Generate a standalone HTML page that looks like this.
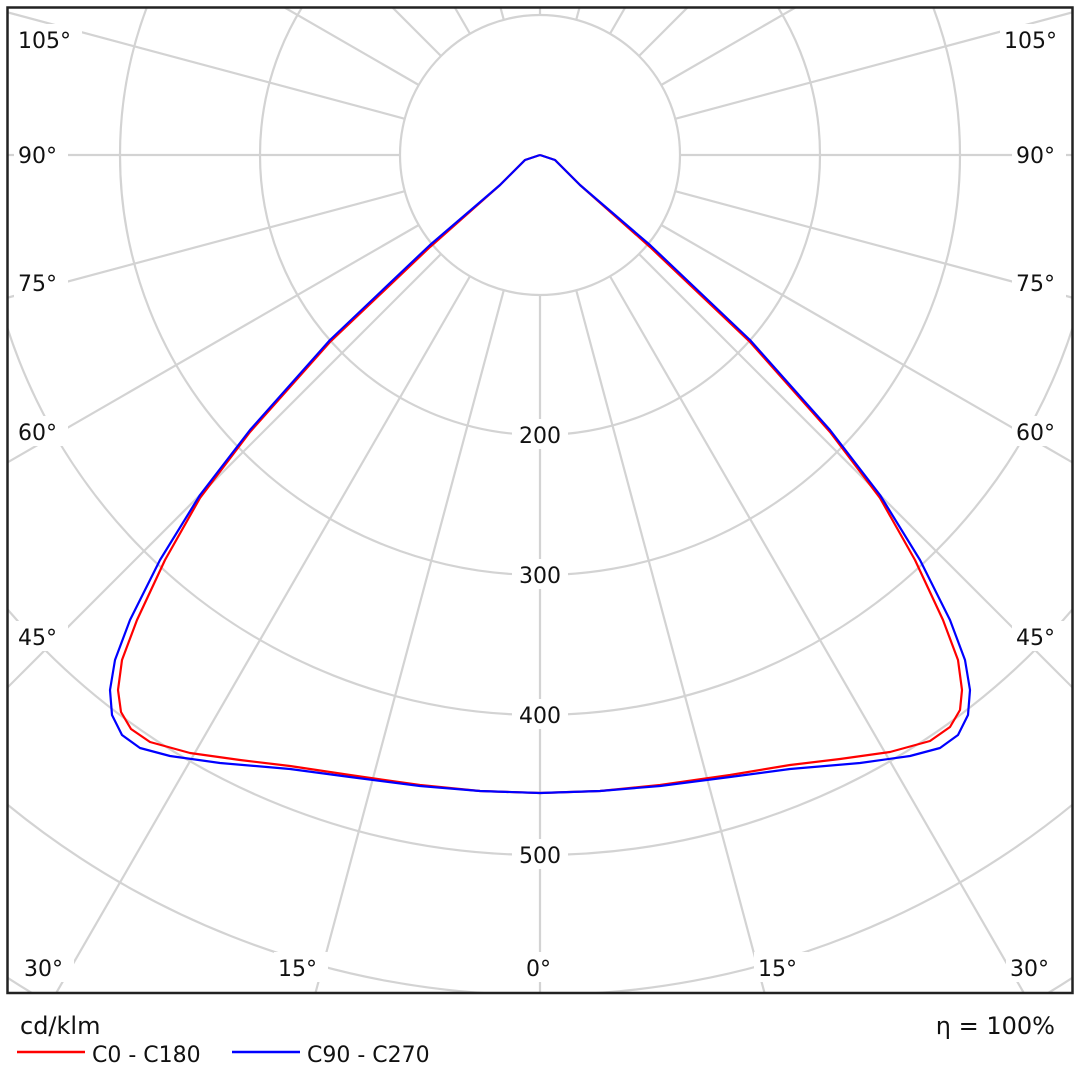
<!DOCTYPE html>
<html><head><meta charset="utf-8"><style>
html,body{margin:0;padding:0;background:#fff;width:1080px;height:1080px;overflow:hidden;}
svg{display:block;font-family:"DejaVu Sans","Liberation Sans",sans-serif;}
</style></head><body>
<svg width="1080" height="1080" viewBox="0 0 1080 1080" xmlns="http://www.w3.org/2000/svg">
<defs><clipPath id="c"><rect x="8" y="8" width="1065" height="985"/></clipPath></defs>
<rect width="1080" height="1080" fill="#fff"/>
<g clip-path="url(#c)" stroke="#d3d3d3" stroke-width="2.2" fill="none">
<circle cx="540" cy="155" r="140"/><circle cx="540" cy="155" r="280"/><circle cx="540" cy="155" r="420"/>
<circle cx="540" cy="155" r="560"/><circle cx="540" cy="155" r="700"/><circle cx="540" cy="155" r="840"/>
<circle cx="540" cy="155" r="980"/><circle cx="540" cy="155" r="1120"/>
<line x1="540" y1="295" x2="540" y2="1400"/>
<line x1="540" y1="295" x2="540" y2="1400" transform="rotate(15 540 155)"/>
<line x1="540" y1="295" x2="540" y2="1400" transform="rotate(30 540 155)"/>
<line x1="540" y1="295" x2="540" y2="1400" transform="rotate(45 540 155)"/>
<line x1="540" y1="295" x2="540" y2="1400" transform="rotate(60 540 155)"/>
<line x1="540" y1="295" x2="540" y2="1400" transform="rotate(75 540 155)"/>
<line x1="540" y1="295" x2="540" y2="1400" transform="rotate(90 540 155)"/>
<line x1="540" y1="295" x2="540" y2="1400" transform="rotate(105 540 155)"/>
<line x1="540" y1="295" x2="540" y2="1400" transform="rotate(120 540 155)"/>
<line x1="540" y1="295" x2="540" y2="1400" transform="rotate(135 540 155)"/>
<line x1="540" y1="295" x2="540" y2="1400" transform="rotate(150 540 155)"/>
<line x1="540" y1="295" x2="540" y2="1400" transform="rotate(165 540 155)"/>
<line x1="540" y1="295" x2="540" y2="1400" transform="rotate(180 540 155)"/>
<line x1="540" y1="295" x2="540" y2="1400" transform="rotate(195 540 155)"/>
<line x1="540" y1="295" x2="540" y2="1400" transform="rotate(210 540 155)"/>
<line x1="540" y1="295" x2="540" y2="1400" transform="rotate(225 540 155)"/>
<line x1="540" y1="295" x2="540" y2="1400" transform="rotate(240 540 155)"/>
<line x1="540" y1="295" x2="540" y2="1400" transform="rotate(255 540 155)"/>
<line x1="540" y1="295" x2="540" y2="1400" transform="rotate(270 540 155)"/>
<line x1="540" y1="295" x2="540" y2="1400" transform="rotate(285 540 155)"/>
<line x1="540" y1="295" x2="540" y2="1400" transform="rotate(300 540 155)"/>
<line x1="540" y1="295" x2="540" y2="1400" transform="rotate(315 540 155)"/>
<line x1="540" y1="295" x2="540" y2="1400" transform="rotate(330 540 155)"/>
<line x1="540" y1="295" x2="540" y2="1400" transform="rotate(345 540 155)"/>
</g>
<g fill="#fff">
<rect x="14" y="24" width="68" height="30"/><rect x="1000" y="24" width="68" height="30"/>
<rect x="14" y="139" width="54" height="30"/><rect x="1012" y="139" width="54" height="30"/>
<rect x="14" y="267" width="54" height="30"/><rect x="1012" y="267" width="54" height="30"/>
<rect x="14" y="416" width="54" height="30"/><rect x="1012" y="416" width="54" height="30"/>
<rect x="14" y="621" width="54" height="30"/><rect x="1012" y="621" width="54" height="30"/>
<rect x="20" y="952" width="54" height="30"/><rect x="1006" y="952" width="54" height="30"/>
<rect x="274" y="952" width="54" height="30"/><rect x="754" y="952" width="54" height="30"/>
<rect x="520" y="952" width="40" height="30"/>
<rect x="512" y="419" width="56" height="30"/><rect x="512" y="559" width="56" height="30"/>
<rect x="512" y="699" width="56" height="30"/><rect x="512" y="839" width="56" height="30"/>
</g>
<g font-size="22" fill="#111">
<text x="18" y="48">105°</text><text x="1004" y="48">105°</text>
<text x="18" y="163">90°</text><text x="1016" y="163">90°</text>
<text x="18" y="291">75°</text><text x="1016" y="291">75°</text>
<text x="18" y="440">60°</text><text x="1016" y="440">60°</text>
<text x="18" y="645">45°</text><text x="1016" y="645">45°</text>
<text x="24" y="976">30°</text><text x="1010" y="976">30°</text>
<text x="278" y="976">15°</text><text x="758" y="976">15°</text>
<text x="526" y="976">0°</text>
<text x="540" y="443" text-anchor="middle">200</text>
<text x="540" y="583" text-anchor="middle">300</text>
<text x="540" y="723" text-anchor="middle">400</text>
<text x="540" y="863" text-anchor="middle">500</text>
</g>
<polyline fill="none" stroke="#f00" stroke-width="2.2" stroke-linejoin="round" points="540,155 525,160 500,185 430,247 330,342 250,432 200,498 165,560 137,620 122,660 118,690 121,712 131,729 150,742 190,753 240,760 290,766 350,775 420,785 480,791 540,793 600,791 660,785 730,775 790,765 840,759 890,752 930,741 950,727 960,710 962,690 958,660 943,620 915,560 880,498 830,432 750,342 650,247 580,185 555,160 540,155"/>
<polyline fill="none" stroke="#00f" stroke-width="2.2" stroke-linejoin="round" points="540,155 525,160 500,185 430,245 330,340 250,430 200,495 160,560 130,620 115,660 110,690 112,715 122,735 140,748 170,756 220,763 290,769 350,777 420,786 480,791 540,793 600,791 660,786 730,777 790,769 860,763 910,756 940,748 958,735 968,715 970,690 965,660 950,620 920,560 880,495 830,430 750,340 650,245 580,185 555,160 540,155"/>
<rect x="7.5" y="7.5" width="1065" height="985.5" fill="none" stroke="#222" stroke-width="2.5"/>
<text x="20" y="1034" font-size="24" fill="#111">cd/klm</text>
<text x="1055" y="1034" font-size="24" fill="#111" text-anchor="end">η = 100%</text>
<line x1="17" y1="1052" x2="85" y2="1052" stroke="#f00" stroke-width="2.5"/>
<text x="92" y="1062" font-size="22" fill="#111">C0 - C180</text>
<line x1="232" y1="1052" x2="300" y2="1052" stroke="#00f" stroke-width="2.5"/>
<text x="307" y="1062" font-size="22" fill="#111">C90 - C270</text>
</svg>
</body></html>
